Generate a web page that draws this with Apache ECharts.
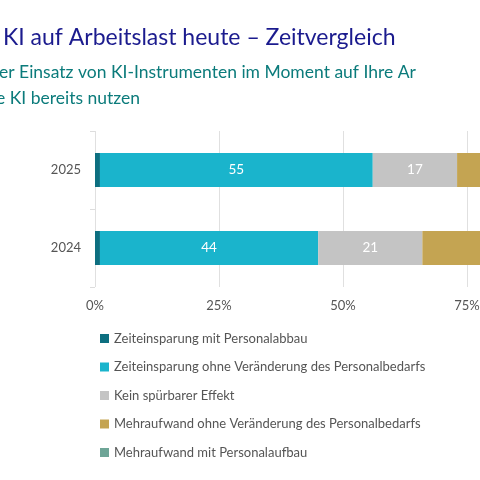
<!DOCTYPE html>
<html><head><meta charset="utf-8">
<script src="https://cdn.jsdelivr.net/npm/echarts@6/dist/echarts.min.js"></script>
<style>html,body{margin:0;padding:0;background:#fff}#chart{width:480px;height:480px}</style>
</head><body><div id="chart"></div>
<script>
var years = ['2024', '2025'];
var names = ['Zeiteinsparung mit Personalabbau', 'Zeiteinsparung ohne Veränderung des Personalbedarfs', 'Kein spürbarer Effekt', 'Mehraufwand ohne Veränderung des Personalbedarfs', 'Mehraufwand mit Personalaufbau'];
var colors = ['#0d6f80', '#1ab4cc', '#c4c4c4', '#c4a452', '#6ea597'];
var values = [
	[1, 1],
	[44, 55],
	[21, 17],
	[30, 24],
	[4, 3]
];
var ticks = ['0%', '25%', '50%', '75%', '100%'];

var myChart = echarts.init(document.getElementById('chart'));
var series = [];
for (var i = 0; i < names.length; i++) {
	series.push({
		name: names[i],
		type: 'bar',
		stack: 'a',
		barWidth: 34,
		data: values[i],
		itemStyle: {color: colors[i]},
		label: {
			show: true, color: '#fff', fontSize: 13.5, fontFamily: 'Lato',
			formatter: function (p) { return p.value >= 5 ? p.value : ''; }
		}
	});
}
var option = {
	textStyle: {fontFamily: 'Lato'},
	graphic: [
		{type: 'text', left: 3, top: 26, style: {text: 'KI auf Arbeitslast heute – Zeitvergleich', fill: '#1b1b8e', fontSize: 23, fontFamily: 'Lato'}},
		{type: 'text', left: -1, top: 63, style: {text: 'er Einsatz von KI-Instrumenten im Moment auf Ihre Ar', fill: '#0b7b7b', fontSize: 17.5, fontFamily: 'Lato'}},
		{type: 'text', left: -4, top: 89, style: {text: 'e KI bereits nutzen', fill: '#0b7b7b', fontSize: 17.5, fontFamily: 'Lato'}}
	],
	legend: {
		orient: 'vertical', left: 95, top: 327, itemGap: 15.5,
		itemWidth: 9, itemHeight: 9, icon: 'rect',
		textStyle: {color: '#555', fontSize: 13, fontFamily: 'Lato'},
		data: names
	},
	grid: {left: 95, top: 131, right: -111, height: 156, outerBoundsMode: 'none', containLabel: false},
	xAxis: {
		type: 'value', min: 0, max: 100, interval: 25,
		axisLabel: {formatter: function (v) { return ticks[v / 25]; }, color: '#555', fontSize: 13, margin: 12},
		splitLine: {lineStyle: {color: '#e0e0e0'}},
		axisLine: {show: false}
	},
	yAxis: {
		type: 'category', data: years,
		axisLabel: {color: '#555', fontSize: 13, margin: 14},
		axisLine: {show: false},
		axisTick: {show: true, lineStyle: {color: '#ddd'}}
	},
	series: series
};
myChart.setOption(option);
</script>
</body></html>
